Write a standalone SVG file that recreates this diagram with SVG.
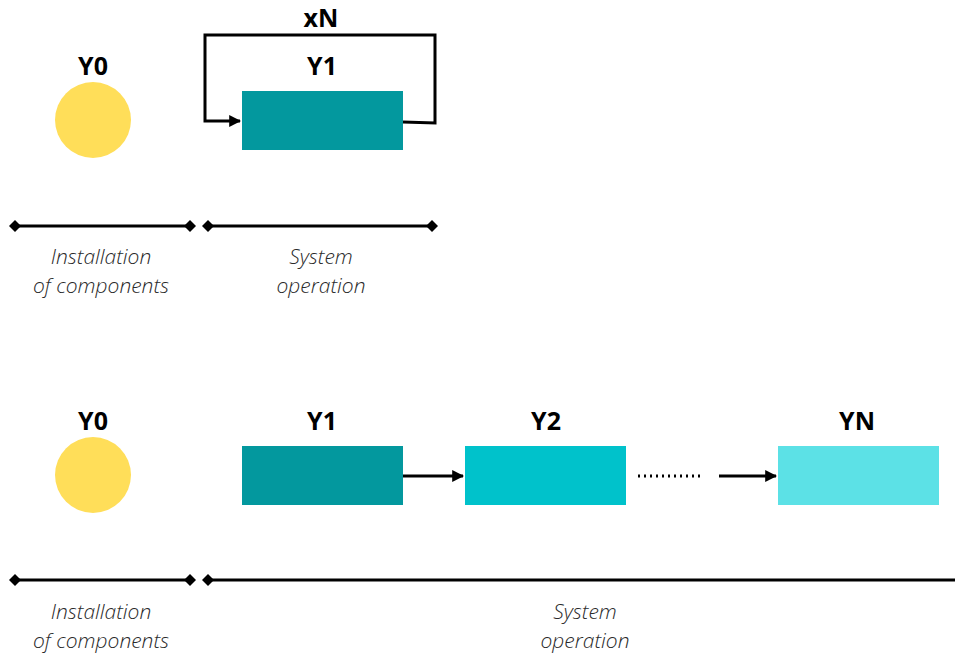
<svg xmlns="http://www.w3.org/2000/svg" width="955" height="658" viewBox="0 0 955 658">
  <defs>
    <marker id="arrow" viewBox="0 0 10 10" refX="9" refY="5" markerWidth="4" markerHeight="4" orient="auto" markerUnits="strokeWidth">
      <path d="M0,0 L10,5 L0,10 z" fill="#000"/>
    </marker>
    <marker id="diamond" viewBox="0 0 10 10" refX="5" refY="5" markerWidth="4" markerHeight="4" orient="auto" markerUnits="strokeWidth">
      <path d="M0,5 L5,0 L10,5 L5,10 z" fill="#000"/>
    </marker>
    <style>
      .title { font-family: "Open Sans", "Liberation Sans", sans-serif; font-weight: 700; font-size: 25px; fill: #000; text-anchor: middle; }
      .caption { font-family: "Open Sans", "Liberation Sans", sans-serif; font-weight: 300; font-style: italic; font-size: 21px; fill: #2a2a2a; text-anchor: middle; }
      .line { stroke: #000; stroke-width: 3; fill: none; }
      .span { stroke: #000; stroke-width: 3; fill: none; marker-start: url(#diamond); marker-end: url(#diamond); }
      .yellow { fill: #FFDE59; }
      .teal { fill: #03989E; }
      .cyan { fill: #00C2CB; }
      .light { fill: #5CE1E6; }
    </style>
  </defs>

  <!-- Upper scenario: one year repeated N times -->
  <g id="top-y0">
    <text class="title" x="93" y="75">Y0</text>
    <circle class="yellow" cx="93" cy="120" r="38"/>
  </g>
  <g id="top-y1">
    <text class="title" x="322" y="75">Y1</text>
    <rect class="teal" x="242" y="91" width="161" height="59"/>
  </g>
  <g id="top-repeat-label">
    <text class="title" x="321" y="27">xN</text>
  </g>

  <!-- Lower scenario: consecutive years -->
  <g id="bottom-y0">
    <text class="title" x="93" y="430">Y0</text>
    <circle class="yellow" cx="93" cy="475" r="38"/>
  </g>
  <g id="bottom-y1">
    <text class="title" x="322" y="430">Y1</text>
    <rect class="teal" x="242" y="446" width="161" height="59"/>
  </g>
  <g id="bottom-y2">
    <text class="title" x="546" y="430">Y2</text>
    <rect class="cyan" x="465" y="446" width="161" height="59"/>
  </g>
  <g id="bottom-yn">
    <text class="title" x="857" y="430">YN</text>
    <rect class="light" x="778" y="446" width="161" height="59"/>
  </g>

  <!-- Connectors -->
  <g id="connectors">
    <path class="line" d="M403,122 L435,123 L435,35 L205,35 L205,121 L240,121" marker-end="url(#arrow)"/>
    <line class="line" x1="403" y1="476" x2="463" y2="476" marker-end="url(#arrow)"/>
    <line x1="638" y1="476" x2="700" y2="476" stroke="#000" stroke-width="3" stroke-dasharray="2 4"/>
    <line class="line" x1="719" y1="476" x2="776" y2="476" marker-end="url(#arrow)"/>
  </g>

  <!-- Timeline spans -->
  <g id="timeline-top">
    <line class="span" x1="15" y1="226" x2="190" y2="226"/>
    <line class="span" x1="208" y1="226" x2="432" y2="226"/>
    <text class="caption" x="101" y="264">Installation</text>
    <text class="caption" x="101" y="293">of components</text>
    <text class="caption" x="321" y="264">System</text>
    <text class="caption" x="321" y="293">operation</text>
  </g>
  <g id="timeline-bottom">
    <line class="span" x1="15" y1="580" x2="190" y2="580"/>
    <line class="line" x1="208" y1="580" x2="960" y2="580" marker-start="url(#diamond)"/>
    <text class="caption" x="101" y="619">Installation</text>
    <text class="caption" x="101" y="648">of components</text>
    <text class="caption" x="585" y="619">System</text>
    <text class="caption" x="585" y="648">operation</text>
  </g>
</svg>
